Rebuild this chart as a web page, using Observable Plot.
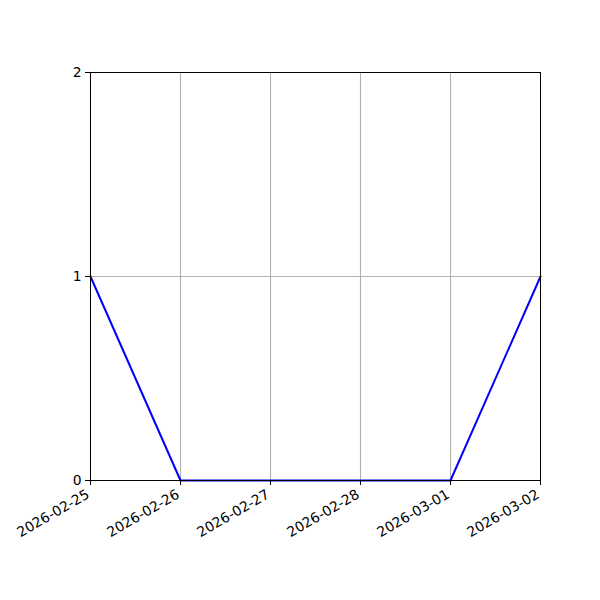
<!DOCTYPE html>
<html>
<head>
<meta charset="utf-8">
<script src="https://cdn.jsdelivr.net/npm/d3@7"></script>
<script src="https://cdn.jsdelivr.net/npm/@observablehq/plot@0.6"></script>
<style>
  html, body { margin: 0; padding: 0; background: #fff; }
</style>
</head>
<body>
<div id="chart"></div>
<script>
const dates = ["2026-02-25", "2026-02-26", "2026-02-27", "2026-02-28", "2026-03-01", "2026-03-02"];
const values = [1, 0, 0, 0, 0, 1];
const yTicks = [0, 1, 2];

const parse = d3.utcParse("%Y-%m-%d");
const data = dates.map((d, i) => ({date: parse(d), value: values[i], label: d}));
const xDomain = [parse(dates[0]), parse(dates[dates.length - 1])];

const chart = Plot.plot({
  width: 600,
  height: 600,
  marginLeft: 90,
  marginRight: 60,
  marginTop: 72,
  marginBottom: 120,
  style: {fontFamily: "DejaVu Sans", fontSize: "13.9px", background: "#fff", color: "#000"},
  x: {type: "utc", domain: xDomain},
  y: {domain: [0, 2]},
  marks: [
    Plot.gridX(data.map(d => d.date), {stroke: "#b0b0b0", strokeOpacity: 1, strokeWidth: 1.1}),
    Plot.gridY(yTicks, {stroke: "#b0b0b0", strokeOpacity: 1, strokeWidth: 1.1}),
    Plot.line(data, {x: "date", y: "value", stroke: "#0000ff", strokeWidth: 2}),
    Plot.frame({stroke: "#000", strokeWidth: 1}),
    Plot.axisX(data.map(d => d.date), {tickFormat: () => "", tickSize: 5, label: null}),
    Plot.text(data, {x: "date", text: "label", frameAnchor: "bottom", rotate: -30, textAnchor: "end", lineAnchor: "top", dx: -5, dy: 8, fontSize: 13.9, fill: "#000"}),
    Plot.axisY(yTicks, {tickFormat: d => String(d), tickSize: 5, tickPadding: 4, label: null, fontSize: 13.9})
  ]
});
document.getElementById("chart").appendChild(chart);
</script>
</body>
</html>
